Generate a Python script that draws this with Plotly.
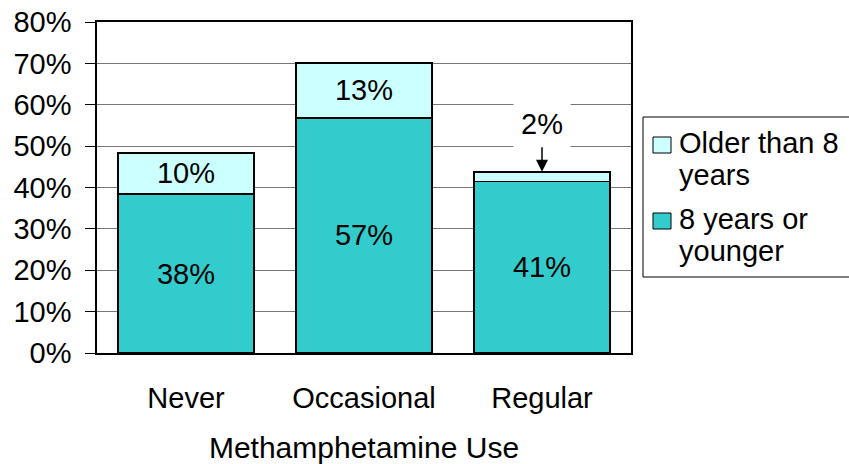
import plotly.graph_objects as go

categories = ["Never", "Occasional", "Regular"]
young_vals = [38.4, 56.8, 41.4]
older_vals = [10.0, 13.3, 2.4]
series_names = ["8 years or<br>younger", "Older than 8<br>years"]
young_labels = ["38%", "57%", "41%"]
older_labels = ["10%", "13%", ""]
callout_label = "2%"
x_title = "Methamphetamine Use"
y_ticks = [0, 10, 20, 30, 40, 50, 60, 70, 80]

TEAL = "#33CCCC"
LIGHT = "#CCFFFF"
FONT = "Liberation Sans, Arial, sans-serif"
FS = 29

W, H = 849, 464
L, R, T, B = 97, 218, 22, 111
PW, PH = W - L - R, H - T - B


def px_x(p):
    return (p - L) / PW


def px_y(p):
    return (H - B - p) / PH


fig = go.Figure()
fig.add_trace(go.Bar(
    x=categories, y=young_vals, name=series_names[0],
    marker=dict(color=TEAL, line=dict(color="#000000", width=1.5)),
    text=young_labels, textposition="inside", insidetextanchor="middle",
    textfont=dict(family=FONT, size=FS, color="#000000"),
    showlegend=False,
))
fig.add_trace(go.Bar(
    x=categories, y=older_vals, name=series_names[1],
    marker=dict(color=LIGHT, line=dict(color="#000000", width=1.5)),
    text=older_labels, textposition="inside", insidetextanchor="middle",
    textfont=dict(family=FONT, size=FS, color="#000000"),
    showlegend=False,
))

# callout for the small segment
fig.add_annotation(
    x=categories[2], y=young_vals[2] + older_vals[2], xref="x", yref="y",
    text=callout_label, showarrow=True, ax=0, ay=-48,
    arrowhead=2, arrowsize=1.6, arrowwidth=1.5, arrowcolor="#000000",
    font=dict(family=FONT, size=FS, color="#000000"),
    bgcolor="#FFFFFF", borderpad=7,
)

# manual legend
shapes = [dict(type="rect", xref="paper", yref="paper",
               x0=px_x(643), x1=px_x(870), y0=px_y(277), y1=px_y(117),
               line=dict(color="#000000", width=1), fillcolor="#FFFFFF", layer="above")]
legend_items = [(series_names[1], LIGHT, 145, (143, 175)), (series_names[0], TEAL, 221, (219, 251))]
for name, col, sq_c, line_c in legend_items:
    shapes.append(dict(type="rect", xref="paper", yref="paper",
                       x0=px_x(653), x1=px_x(671), y0=px_y(sq_c + 8), y1=px_y(sq_c - 8),
                       line=dict(color="#000000", width=1), fillcolor=col, layer="above"))
    for part, yc in zip(name.split("<br>"), line_c):
        fig.add_annotation(x=px_x(677), y=px_y(yc), xref="paper", yref="paper",
                           xanchor="left", yanchor="middle", align="left", showarrow=False,
                           text=part, font=dict(family=FONT, size=FS, color="#000000"))

fig.update_layout(
    width=W, height=H, barmode="stack", bargap=0.236,
    margin=dict(l=L, r=R, t=T, b=B, autoexpand=False),
    paper_bgcolor="#FFFFFF", plot_bgcolor="#FFFFFF",
    font=dict(family=FONT, size=FS, color="#000000"),
    shapes=shapes, showlegend=False,
    uniformtext=dict(mode=False),
)
fig.update_xaxes(
    showline=True, linecolor="#000000", linewidth=1.5, mirror=True,
    ticks="", showgrid=False, ticklabelstandoff=18,
    tickfont=dict(family=FONT, size=FS, color="#000000"),
    title=dict(text=x_title, font=dict(family=FONT, size=30, color="#000000"), standoff=25),
)
fig.update_yaxes(
    range=[0, 80], tickvals=y_ticks, ticktext=[f"{v}%" for v in y_ticks],
    showline=True, linecolor="#000000", linewidth=1.5, mirror=True,
    ticks="outside", ticklen=10, tickcolor="#000000", tickwidth=1,
    ticklabelstandoff=8,
    showgrid=True, gridcolor="#777777", gridwidth=1, zeroline=False,
    tickfont=dict(family=FONT, size=FS, color="#000000"),
)

fig.write_html("out.html")
